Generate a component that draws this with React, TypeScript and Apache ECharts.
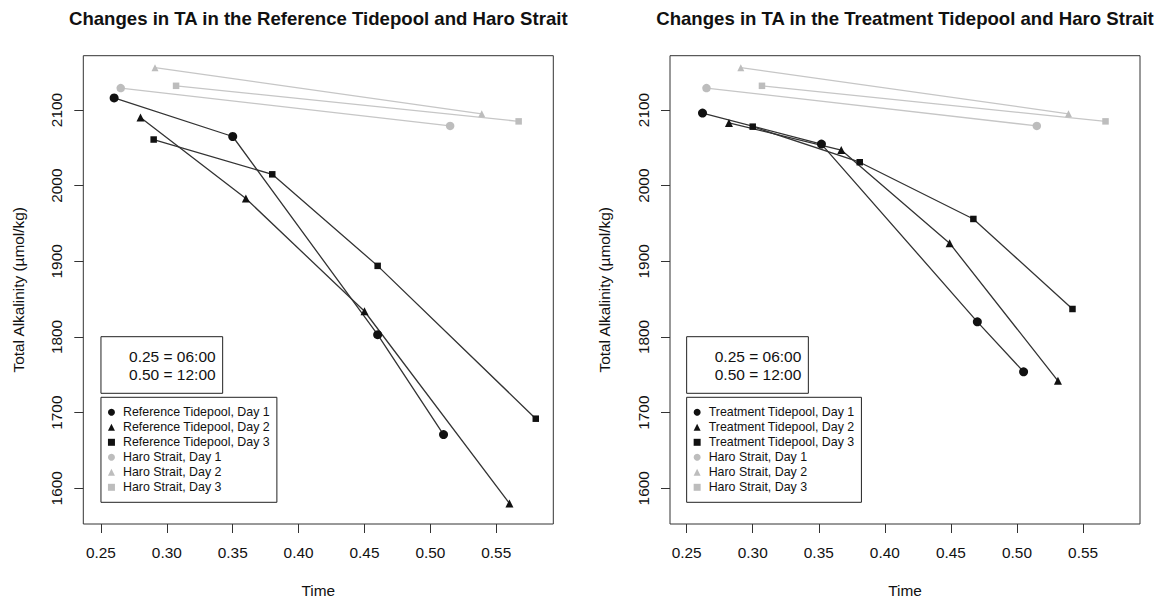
import React, { useEffect, useRef } from "react";
import * as echarts from "echarts";

// ---- Data ----
const xTicks = [0.25, 0.3, 0.35, 0.4, 0.45, 0.5, 0.55];
const yTicks = [1600, 1700, 1800, 1900, 2000, 2100];

// Reference tidepool
const refDay1X = [0.26, 0.35, 0.46, 0.51];
const refDay1Y = [2116, 2065, 1803, 1671];
const refDay2X = [0.28, 0.36, 0.45, 0.56];
const refDay2Y = [2090, 1983, 1834, 1580];
const refDay3X = [0.29, 0.38, 0.46, 0.58];
const refDay3Y = [2061, 2015, 1894, 1692];

// Treatment tidepool
const trtDay1X = [0.262, 0.352, 0.47, 0.505];
const trtDay1Y = [2096, 2055, 1820, 1754];
const trtDay2X = [0.282, 0.367, 0.449, 0.531];
const trtDay2Y = [2083, 2047, 1924, 1742];
const trtDay3X = [0.3, 0.381, 0.467, 0.542];
const trtDay3Y = [2078, 2031, 1956, 1837];

// Haro Strait (same in both panels)
const haroDay1X = [0.265, 0.515];
const haroDay1Y = [2129, 2079];
const haroDay2X = [0.291, 0.539];
const haroDay2Y = [2156, 2095];
const haroDay3X = [0.307, 0.567];
const haroDay3Y = [2132, 2085];

const FONT = '"Liberation Sans", Arial, Helvetica, sans-serif';
const BLACK = "#111111";
const LINE_DARK = "#333333";
const GRAY = "#bdbdbd";
const GRAY_LINE = "#c6c6c6";

const panels = [
  {
    title: "Changes in TA in the Reference Tidepool and Haro Strait",
    prefix: "Reference Tidepool",
    days: [
      [refDay1X, refDay1Y],
      [refDay2X, refDay2Y],
      [refDay3X, refDay3Y],
    ],
    left: 83.3,
    xMin: 0.2366,
    xMax: 0.5933,
  },
  {
    title: "Changes in TA in the Treatment Tidepool and Haro Strait",
    prefix: "Treatment Tidepool",
    days: [
      [trtDay1X, trtDay1Y],
      [trtDay2X, trtDay2Y],
      [trtDay3X, trtDay3Y],
    ],
    left: 670,
    xMin: 0.2374,
    xMax: 0.5931,
  },
];

const haroDays = [
  [haroDay1X, haroDay1Y],
  [haroDay2X, haroDay2Y],
  [haroDay3X, haroDay3Y],
];

const symbols = ["circle", "triangle", "rect"];
const darkSizes = [9, 8, 6.5];
const graySizes = [8.5, 7, 6.5];

const GRID_TOP = 55.7;
const GRID_W = 470;
const GRID_H = 468.3;
const Y_MIN = 1552.8;
const Y_MAX = 2171.8;

function buildOption() {
  const grid: any[] = [];
  const xAxis: any[] = [];
  const yAxis: any[] = [];
  const series: any[] = [];
  const legend: any[] = [];
  const graphic: any[] = [];

  panels.forEach((p, pi) => {
    grid.push({
      left: p.left,
      top: GRID_TOP,
      width: GRID_W,
      height: GRID_H,
      show: true,
      borderColor: "#333",
      borderWidth: 1,
      backgroundColor: "transparent",
    });
    xAxis.push({
      type: "value",
      gridIndex: pi,
      min: p.xMin,
      max: p.xMax,
      splitLine: { show: false },
      axisLine: { show: false },
      axisTick: {
        show: true,
        length: 9,
        lineStyle: { color: "#333", width: 1 },
        customValues: xTicks,
      },
      axisLabel: {
        show: true,
        margin: 21,
        fontSize: 15.4,
        fontFamily: FONT,
        color: "#111",
        customValues: xTicks,
        formatter: (v: number) => v.toFixed(2),
      },
    });
    yAxis.push({
      type: "value",
      gridIndex: pi,
      min: Y_MIN,
      max: Y_MAX,
      splitLine: { show: false },
      axisLine: { show: false },
      axisTick: {
        show: true,
        length: 9,
        lineStyle: { color: "#333", width: 1 },
        customValues: yTicks,
      },
      axisLabel: {
        show: true,
        rotate: 90,
        margin: 19,
        fontSize: 15.4,
        fontFamily: FONT,
        color: "#111",
        customValues: yTicks,
        formatter: (v: number) => String(Math.round(v)),
      },
    });

    const names: string[] = [];
    p.days.forEach((d, di) => {
      const name = `${p.prefix}, Day ${di + 1}`;
      names.push(name);
      series.push({
        type: "line",
        name,
        xAxisIndex: pi,
        yAxisIndex: pi,
        data: d[0].map((x, i) => [x, d[1][i]]),
        symbol: symbols[di],
        symbolSize: darkSizes[di],
        showSymbol: true,
        itemStyle: { color: BLACK },
        lineStyle: { color: LINE_DARK, width: 1.3 },
        silent: true,
        z: 3,
      });
    });
    haroDays.forEach((d, di) => {
      const name = `Haro Strait, Day ${di + 1}`;
      names.push(name);
      series.push({
        type: "line",
        name,
        xAxisIndex: pi,
        yAxisIndex: pi,
        data: d[0].map((x, i) => [x, d[1][i]]),
        symbol: symbols[di],
        symbolSize: graySizes[di],
        showSymbol: true,
        itemStyle: { color: GRAY },
        lineStyle: { color: GRAY_LINE, width: 1.3 },
        silent: true,
        z: 2,
      });
    });

    const tickX0 = p.left + ((0.25 - p.xMin) / (p.xMax - p.xMin)) * GRID_W;

    legend.push({
      orient: "vertical",
      left: tickX0,
      top: 397.3,
      padding: [7.5, 7, 7.5, 7],
      itemGap: 0,
      itemWidth: 7,
      itemHeight: 7,
      borderColor: "#222",
      borderWidth: 1,
      borderRadius: 0,
      selectedMode: false,
      textStyle: {
        fontSize: 12.4,
        fontFamily: FONT,
        color: "#111",
        lineHeight: 15,
        padding: [0, 0, 0, 3],
      },
      data: names.map((n, i) => ({
        name: n,
        icon: symbols[i % 3],
        itemStyle: { color: i < 3 ? BLACK : GRAY },
      })),
    });

    const cx = p.left + GRID_W / 2;
    graphic.push(
      {
        type: "text",
        x: cx,
        y: 18.5,
        style: {
          text: p.title,
          fill: "#111",
          font: `bold 18.6px ${FONT}`,
          textAlign: "center",
          textVerticalAlign: "middle",
        },
      },
      {
        type: "text",
        x: cx,
        y: 590,
        style: {
          text: "Time",
          fill: "#111",
          font: `15.4px ${FONT}`,
          textAlign: "center",
          textVerticalAlign: "middle",
        },
      },
      {
        type: "text",
        x: p.left - 65.3,
        y: GRID_TOP + GRID_H / 2,
        rotation: Math.PI / 2,
        style: {
          text: "Total Alkalinity (µmol/kg)",
          fill: "#111",
          font: `15.4px ${FONT}`,
          textAlign: "center",
          textVerticalAlign: "middle",
        },
      },
      {
        type: "rect",
        shape: { x: tickX0, y: 336.7, width: 121.7, height: 56.6 },
        style: { fill: "#fff", stroke: "#222", lineWidth: 1 },
        z: 10,
      },
      {
        type: "text",
        x: tickX0 + 114.7,
        y: 356.3,
        z: 11,
        style: {
          text: "0.25 = 06:00",
          fill: "#111",
          font: `15.5px ${FONT}`,
          textAlign: "right",
          textVerticalAlign: "middle",
        },
      },
      {
        type: "text",
        x: tickX0 + 114.7,
        y: 374.7,
        z: 11,
        style: {
          text: "0.50 = 12:00",
          fill: "#111",
          font: `15.5px ${FONT}`,
          textAlign: "right",
          textVerticalAlign: "middle",
        },
      }
    );
  });

  return {
    animation: false,
    backgroundColor: "#ffffff",
    grid,
    xAxis,
    yAxis,
    series,
    legend,
    graphic,
  };
}

export default function App() {
  const ref = useRef<HTMLDivElement>(null);
  useEffect(() => {
    if (!ref.current) return;
    const chart = echarts.init(ref.current, undefined, { renderer: "svg" });
    chart.setOption(buildOption() as any);
    return () => chart.dispose();
  }, []);
  return (
    <div
      ref={ref}
      style={{ position: "absolute", left: 0, top: 0, width: 1162, height: 600, background: "#fff" }}
    />
  );
}
